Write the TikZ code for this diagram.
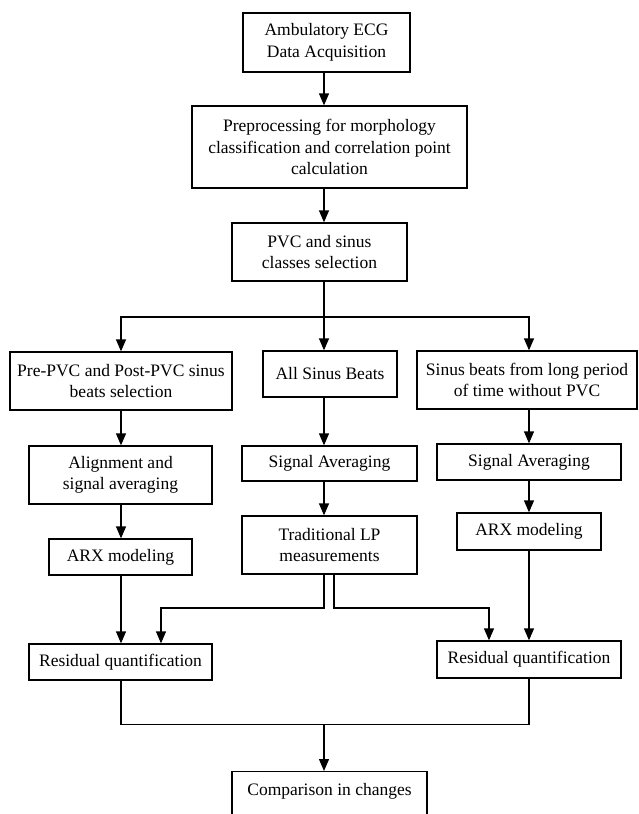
\documentclass[tikz,border=0pt]{standalone}
\usepackage{fontspec}
\setmainfont{Liberation Serif}
\usetikzlibrary{arrows.meta}
\begin{document}
\begin{tikzpicture}[x=1pt,y=-1pt,
  box/.style={draw,line width=1.3pt,inner sep=0pt,align=center,
    font=\fontsize{17.5}{21.5}\selectfont},
  arr/.style={line width=1.3pt,-{Triangle[length=12pt,width=10pt]}},
  ln/.style={line width=1.3pt}]
\useasboundingbox (0,0) rectangle (639,814);
\clip (0,0) rectangle (639,814);
\fill[white] (0,0) rectangle (639,814);
% column coordinates
\coordinate (cL) at (121,0);
\coordinate (cL2) at (161,0);
\coordinate (cM) at (324,0);
\coordinate (cM2) at (334,0);
\coordinate (cR2) at (489,0);
\coordinate (cR) at (529,0);
\coordinate (bar) at (0,317);
\coordinate (lp) at (0,608);
\coordinate (bot) at (0,724.5);
% boxes
\node[box,minimum width=167,minimum height=59] (b1) at (326.5,42.5) {Ambulatory ECG\\Data Acquisition};
\node[box,minimum width=275,minimum height=82] (b2) at (329.5,147) {Preprocessing for morphology\\classification and correlation point\\calculation};
\node[box,minimum width=175,minimum height=58] (b3) at (319.5,252) {PVC and sinus\\classes selection};
\node[box,minimum width=222,minimum height=58] (b4) at (121,381) {Pre-PVC and Post-PVC sinus\\beats selection};
\node[box,minimum width=134,minimum height=46] (b5) at (330,374) {All Sinus Beats};
\node[box,minimum width=220,minimum height=58] (b6) at (527,380) {Sinus beats from long period\\of time without PVC};
\node[box,minimum width=183,minimum height=58] (b7) at (120.5,475) {Alignment and\\signal averaging};
\node[box,minimum width=175,minimum height=35] (b8) at (329.5,463.5) {Signal Averaging};
\node[box,minimum width=184,minimum height=36] (b9) at (529,462) {Signal Averaging};
\node[box,minimum width=143,minimum height=36] (b10) at (120.5,557) {ARX modeling};
\node[box,minimum width=175,minimum height=58] (b11) at (329.5,545) {Traditional LP\\measurements};
\node[box,minimum width=144,minimum height=37] (b12) at (529,531.5) {ARX modeling};
\node[box,minimum width=183,minimum height=36] (b13) at (120.5,662) {Residual quantification};
\node[box,minimum width=184,minimum height=37] (b14) at (529,659.5) {Residual quantification};
\node[box,minimum width=195,text height=24pt,text depth=40pt,anchor=north] (b15) at (329.5,771) {Comparison in changes};
% connectors
\draw[arr] (b1.south -| cM) -- (b2.north -| cM);
\draw[arr] (b2.south -| cM) -- (b3.north -| cM);
\draw[arr] (b3.south -| cM) -- (b5.north -| cM);
\draw[arr] (cM |- bar) -- (cL |- bar) -- (b4.north -| cL);
\draw[arr] (cM |- bar) -- (cR |- bar) -- (b6.north -| cR);
\draw[arr] (b4.south -| cL) -- (b7.north -| cL);
\draw[arr] (b5.south -| cM) -- (b8.north -| cM);
\draw[arr] (b6.south -| cR) -- (b9.north -| cR);
\draw[arr] (b7.south -| cL) -- (b10.north -| cL);
\draw[arr] (b8.south -| cM) -- (b11.north -| cM);
\draw[arr] (b9.south -| cR) -- (b12.north -| cR);
\draw[arr] (b10.south -| cL) -- (b13.north -| cL);
\draw[arr] (b12.south -| cR) -- (b14.north -| cR);
\draw[arr] (b11.south -| cM) -- (cM |- lp) -- (cL2 |- lp) -- (b13.north -| cL2);
\draw[arr] (b11.south -| cM2) -- (cM2 |- lp) -- (cR2 |- lp) -- (b14.north -| cR2);
\draw[ln] (b13.south -| cL) -- (cL |- bot) -- (cR |- bot) -- (b14.south -| cR);
\draw[arr] (cM |- bot) -- (b15.north -| cM);
\end{tikzpicture}
\end{document}
